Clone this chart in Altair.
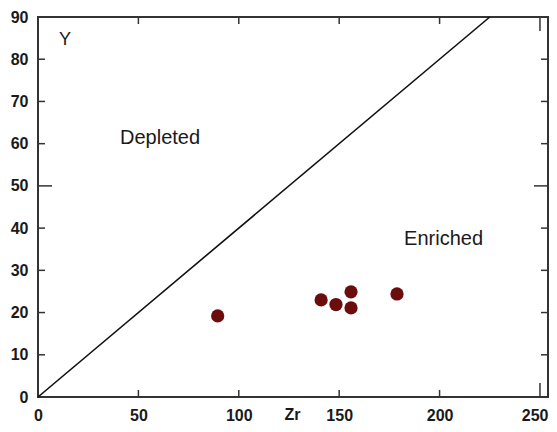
import altair as alt
import pandas as pd

zr = [89.5, 141, 148.4, 155.9, 155.9, 178.8]
y_vals = [19.2, 23.0, 21.9, 24.9, 21.1, 24.4]

line_zr = [0, 225]
line_y = [0, 90]

x_ticks = [50, 100, 150, 200, 250]
x_tick_len = [7, 7, 7, 7, 14]
y_ticks = [10, 20, 30, 40, 50, 60, 70, 80]
y_tick_len = [7, 7, 7, 7, 14, 7, 7, 7]

labels = ["Depleted", "Enriched", "Y"]
label_x = [60.8, 202, 13.5]
label_y = [61.3, 37.4, 84.6]
label_size = [20, 20, 18]

W, H = 510, 380
xs = alt.Scale(domain=[0, 254], nice=False, zero=False)
ys = alt.Scale(domain=[0, 90], nice=False, zero=False)

pts = pd.DataFrame({"Zr": zr, "Y": y_vals})
ln = pd.DataFrame({"Zr": line_zr, "Y": line_y})
xt = pd.DataFrame({"v": x_ticks, "len": x_tick_len})
yt = pd.DataFrame({"v": y_ticks, "len": y_tick_len})
lab = pd.DataFrame({"t": labels, "x": label_x, "y": label_y, "s": label_size})

base_x = alt.X("Zr:Q", scale=xs, axis=alt.Axis(
    values=[0, 50, 100, 150, 200, 250], tickSize=0, domain=False, grid=False,
    labelFontSize=16, labelFontWeight="bold", labelColor="#1a1a1a", labelPadding=10,
    labelFont="Liberation Sans", labelBound=False, labelOverlap=False,
    labelAlign={"condition": {"test": "datum.value == 250", "value": "right"}, "value": "center"},
    labelOffset={"condition": {"test": "datum.value == 250", "value": 8}, "value": 0},
    title="Zr", titleFontSize=16, titleFontWeight="bold", titleColor="#1a1a1a",
    titleFont="Liberation Sans", titleX=254, titleY=22, titleBaseline="alphabetic"))
base_y = alt.Y("Y:Q", scale=ys, axis=alt.Axis(
    values=[0, 10, 20, 30, 40, 50, 60, 70, 80, 90], tickSize=0, domain=False, grid=False,
    labelFontSize=16, labelFontWeight="bold", labelColor="#1a1a1a", labelPadding=10,
    labelFont="Liberation Sans", title=None))

line = alt.Chart(ln).mark_line(color="#111", strokeWidth=1.6).encode(x=base_x, y=base_y)

points = alt.Chart(pts).mark_circle(size=175, color="#6b0d0d", opacity=1).encode(
    x=alt.X("Zr:Q", scale=xs), y=alt.Y("Y:Q", scale=ys))

# inward ticks: bottom, top, left, right
bt = alt.Chart(xt).transform_calculate(y0=f"{H}", y1=f"{H} - datum.len").mark_rule(
    color="#333", strokeWidth=1.5).encode(
    x=alt.X("v:Q", scale=xs), y=alt.Y("y0:Q", scale=None), y2="y1:Q")
tt = alt.Chart(xt).transform_calculate(y0="0", y1="datum.len").mark_rule(
    color="#333", strokeWidth=1.5).encode(
    x=alt.X("v:Q", scale=xs), y=alt.Y("y0:Q", scale=None), y2="y1:Q")
lt = alt.Chart(yt).transform_calculate(x0="0", x1="datum.len").mark_rule(
    color="#333", strokeWidth=1.5).encode(
    y=alt.Y("v:Q", scale=ys), x=alt.X("x0:Q", scale=None), x2="x1:Q")
rt = alt.Chart(yt).transform_calculate(x0=f"{W}", x1=f"{W} - datum.len").mark_rule(
    color="#333", strokeWidth=1.5).encode(
    y=alt.Y("v:Q", scale=ys), x=alt.X("x0:Q", scale=None), x2="x1:Q")

text = alt.Chart(lab).mark_text(font="Liberation Sans", color="#1a1a1a", align="center",
                                baseline="middle").encode(
    x=alt.X("x:Q", scale=xs), y=alt.Y("y:Q", scale=ys),
    text="t:N", size=alt.Size("s:Q", scale=None, legend=None))

chart = alt.layer(line, points, bt, tt, lt, rt, text).properties(
    width=W, height=H,
    background="white",
    autosize=alt.AutoSizeParams(type="none"),
    padding={"left": 30, "top": 9, "right": 1, "bottom": 27},
).configure_view(stroke="#333", strokeWidth=2)

chart.save("out.html", embed_options={"renderer": "svg", "actions": False})
